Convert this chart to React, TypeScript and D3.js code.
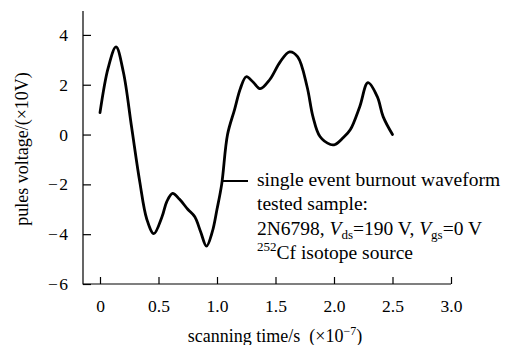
import React, { useRef, useEffect } from 'react';
import { select, scaleLinear, axisBottom, axisLeft, line, curveCatmullRom } from 'd3';

// waveform (time in 1e-7 s, voltage in 10 V)
const times = [0, 0.07, 0.137, 0.2, 0.27, 0.34, 0.4, 0.46, 0.53, 0.57, 0.62, 0.68, 0.75, 0.81, 0.86, 0.91, 0.96, 1.0, 1.04, 1.09, 1.15, 1.2, 1.25, 1.31, 1.37, 1.45, 1.54, 1.62, 1.69, 1.77, 1.82, 1.88, 1.97, 2.01, 2.08, 2.14, 2.22, 2.29, 2.37, 2.42, 2.5];
const volts = [0.88, 2.68, 3.52, 2.5, 0.3, -1.9, -3.4, -3.98, -3.3, -2.7, -2.36, -2.6, -3.0, -3.3, -3.9, -4.48, -3.9, -3.0, -2.0, 0.0, 1.0, 1.85, 2.32, 2.1, 1.84, 2.2, 2.92, 3.32, 3.12, 1.92, 0.72, -0.08, -0.4, -0.4, -0.12, 0.2, 1.12, 2.08, 1.52, 0.72, 0];

const xTicks = [0, 0.5, 1.0, 1.5, 2.0, 2.5, 3.0];
const yTicks = [-6, -4, -2, 0, 2, 4];

const W = 508;
const H = 345;
const FONT = "'Liberation Serif', 'Times New Roman', serif";

export default function App() {
    const svgRef = useRef<SVGSVGElement | null>(null);

    useEffect(() => {
        const svg = select(svgRef.current as any);
        const plot = svg.select('.plot');
        plot.selectAll('*').remove();

        const x = scaleLinear().domain([0, 3]).range([100, 451]);
        const y = scaleLinear().domain([-6, 5]).range([284, 10]);
        const x0 = 83; // y axis position
        const y0 = y(-6);

        const xAxis: any = axisBottom(x)
            .tickValues(xTicks)
            .tickFormat((d: any) => (d === 0 ? '0' : (+d).toFixed(1)))
            .tickSizeInner(-7)
            .tickSizeOuter(0)
            .tickPadding(16);
        const gx: any = plot.append('g').attr('transform', `translate(0,${y0})`).call(xAxis);
        gx.select('.domain').remove();

        const yAxis: any = axisLeft(y)
            .tickValues(yTicks)
            .tickFormat((d: any) => (d < 0 ? '\u2212\u200a' + Math.abs(d) : String(d)))
            .tickSizeInner(-8)
            .tickSizeOuter(0)
            .tickPadding(15);
        const gy: any = plot.append('g').attr('transform', `translate(${x0},0)`).call(yAxis);
        gy.select('.domain').remove();

        [gx, gy].forEach((g: any) => {
            g.attr('font-family', FONT).attr('font-size', 17.5);
            g.selectAll('line').attr('stroke', '#000').attr('stroke-width', 1.2);
            g.selectAll('text').style('font-family', FONT).style('font-size', '17.5px').attr('fill', '#000');
        });

        // axis lines
        plot.append('path')
            .attr('d', `M${x0},${y(4.96)}V${y0}H${x(3)}`)
            .attr('fill', 'none')
            .attr('stroke', '#000')
            .attr('stroke-width', 1.2);

        // waveform
        const pts: [number, number][] = times.map((t, i) => [t, volts[i]]);
        const wave: any = line<[number, number]>()
            .x((d) => x(d[0]))
            .y((d) => y(d[1]))
            .curve(curveCatmullRom.alpha(0.5));
        plot.append('path')
            .datum(pts)
            .attr('d', wave)
            .attr('fill', 'none')
            .attr('stroke', '#000')
            .attr('stroke-width', 2.8)
            .attr('stroke-linejoin', 'round')
            .attr('stroke-linecap', 'round');
    }, []);

    const ax = 257;
    const ay = 186;
    const gap = 24.4;

    return (
        <svg ref={svgRef} width={W} height={H} style={{ position: 'absolute', left: 0, top: 0, background: '#fff' }}>
            <g className="plot" />
            <g fontFamily={FONT} fill="#000">
                <text x={275} y={342} fontSize={18} textAnchor="middle">
                    scanning time/s{'\u00a0\u00a0'}(×10<tspan dy={-7} fontSize={12}>−7</tspan><tspan dy={7}>)</tspan>
                </text>
                <text transform="translate(28,149) rotate(-90)" fontSize={18} textAnchor="middle">
                    pules voltage/(×10V)
                </text>
                <line x1={223} x2={248} y1={181} y2={181} stroke="#000" strokeWidth={2} />
                <g fontSize={19.5}>
                    <text x={ax} y={ay}>single event burnout waveform</text>
                    <text x={ax} y={ay + gap}>tested sample:</text>
                    <text x={ax} y={ay + gap * 2}>
                        2N6798, <tspan fontStyle="italic">V</tspan>
                        <tspan fontSize={13} dy={4}>ds</tspan>
                        <tspan dy={-4}>=190 V, </tspan>
                        <tspan fontStyle="italic">V</tspan>
                        <tspan fontSize={13} dy={4}>gs</tspan>
                        <tspan dy={-4}>=0 V</tspan>
                    </text>
                    <text x={ax} y={ay + gap * 3}>
                        <tspan fontSize={13} dy={-8}>252</tspan>
                        <tspan dy={8}>Cf isotope source</tspan>
                    </text>
                </g>
            </g>
        </svg>
    );
}
